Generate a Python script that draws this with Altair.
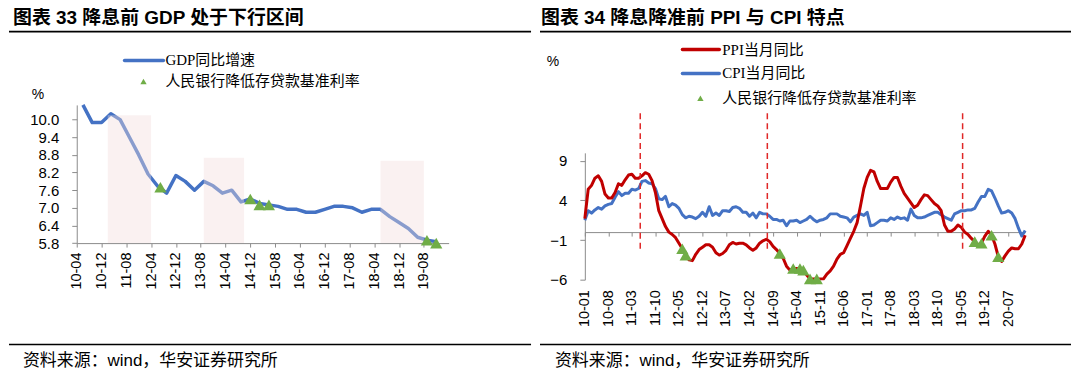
import altair as alt
import pandas as pd

# ---------------- data: left panel (GDP) ----------------
gdp_dates = ["2010-06", "2010-09", "2010-12", "2011-03", "2011-06", "2011-09", "2011-12",
             "2012-03", "2012-06", "2012-09", "2012-12", "2013-03", "2013-06", "2013-09", "2013-12",
             "2014-03", "2014-06", "2014-09", "2014-12", "2015-03", "2015-06", "2015-09", "2015-12",
             "2016-03", "2016-06", "2016-09", "2016-12", "2017-03", "2017-06", "2017-09", "2017-12",
             "2018-03", "2018-06", "2018-09", "2018-12", "2019-03", "2019-06", "2019-09", "2019-12"]
gdp_values = [10.8, 9.9, 9.9, 10.2, 10.0, 9.4, 8.8,
              8.15, 7.75, 7.5, 8.1, 7.9, 7.6, 7.9, 7.75,
              7.5, 7.6, 7.2, 7.3, 7.15, 7.1, 7.05, 6.95,
              6.95, 6.85, 6.85, 6.95, 7.05, 7.05, 7.0, 6.85,
              6.95, 6.95, 6.7, 6.5, 6.3, 6.0, 5.9, 5.85]
gdp_cut_dates = ["2012-07", "2014-12", "2015-03", "2015-06", "2019-09", "2019-12"]
gdp_cut_values = [7.7, 7.3, 7.1, 7.1, 5.9, 5.8]
shade_start = ["2011-02", "2013-09", "2018-06"]
shade_end = ["2012-04", "2014-10", "2019-08"]
shade_top = [10.15, 8.7, 8.6]
left_x_labels = ["10-04", "10-12", "11-08", "12-04", "12-12", "13-08", "14-04", "14-12",
                 "15-08", "16-04", "16-12", "17-08", "18-04", "18-12", "19-08"]
left_y_ticks = [5.8, 6.4, 7.0, 7.6, 8.2, 8.8, 9.4, 10.0]

# ---------------- data: right panel (PPI / CPI) ----------------
ppi_values = [1.7, 5.4, 5.9, 6.8, 7.1, 6.4, 4.8, 4.3, 4.3, 5.0, 6.1, 5.9,
              6.6, 7.2, 7.3, 6.8, 6.8, 7.1, 7.5, 7.3, 6.5, 5.0, 2.7, 1.7,
              0.7, 0.0, -0.3, -0.7, -1.4, -2.1, -2.9, -3.5, -3.6, -2.8, -2.2, -1.9,
              -1.6, -1.6, -1.9, -2.6, -2.9, -2.7, -2.3, -1.6, -1.3, -1.5, -1.4, -1.4,
              -1.6, -2.0, -2.3, -2.0, -1.4, -1.1, -0.9, -1.2, -1.8, -2.2, -2.7, -3.3,
              -4.3, -4.8, -4.6, -4.6, -4.6, -4.8, -5.4, -5.9, -5.9, -5.9, -5.9, -5.9,
              -5.3, -4.9, -4.3, -3.4, -2.8, -2.6, -1.7, -0.8, 0.1, 1.2, 3.3, 5.5,
              6.9, 7.8, 7.6, 6.4, 5.5, 5.5, 5.5, 6.3, 6.9, 6.9, 5.8, 4.9,
              4.3, 3.7, 3.1, 3.4, 4.1, 4.7, 4.6, 4.1, 3.6, 3.3, 2.7, 0.9,
              0.1, 0.1, 0.4, 0.9, 0.6, 0.0, -0.3, -0.8, -1.2, -1.6, -1.4, -0.5,
              0.1, -0.4, -1.5, -3.1, -3.7, -3.0, -2.4, -2.0, -2.1, -2.1, -1.5, -0.4]
cpi_values = [1.5, 2.7, 2.4, 2.8, 3.1, 2.9, 3.3, 3.5, 3.6, 4.4, 5.1, 4.6,
              4.9, 4.9, 5.4, 5.3, 5.5, 6.4, 6.5, 6.2, 6.1, 5.5, 4.2, 4.1,
              4.5, 3.2, 3.6, 3.4, 3.0, 2.2, 1.8, 2.0, 1.9, 1.7, 2.0, 2.5,
              2.0, 3.2, 2.1, 2.4, 2.1, 2.7, 2.7, 2.6, 3.1, 3.2, 3.0, 2.5,
              2.5, 2.0, 2.4, 1.8, 2.5, 2.3, 2.3, 2.0, 1.6, 1.6, 1.4, 1.5,
              0.8, 1.4, 1.4, 1.5, 1.2, 1.4, 1.6, 2.0, 1.6, 1.3, 1.5, 1.6,
              1.8, 2.3, 2.3, 2.3, 2.0, 1.9, 1.8, 1.3, 1.9, 2.1, 2.3, 2.1,
              2.5, 0.8, 0.9, 1.2, 1.5, 1.5, 1.4, 1.8, 1.6, 1.9, 1.7, 1.8,
              1.5, 2.9, 2.1, 1.8, 1.8, 1.9, 2.1, 2.3, 2.5, 2.5, 2.2, 1.9,
              1.7, 1.5, 2.3, 2.5, 2.7, 2.7, 2.8, 2.8, 3.0, 3.8, 4.5, 4.5,
              5.4, 5.2, 4.3, 3.3, 2.4, 2.5, 2.7, 2.4, 1.7, 0.5, -0.5, 0.2]
cut_dates = ["2012-06", "2012-07", "2014-11", "2015-03", "2015-05", "2015-06",
             "2015-08", "2015-10", "2019-09", "2019-11", "2020-02", "2020-04"]
cut_values = [-2.1, -2.9, -2.7, -4.6, -4.6, -4.8, -5.9, -5.9, -1.2, -1.4, -0.4, -3.1]
dash_dates = ["2011-05-16", "2014-07-10", "2019-05-13"]
dash_top = 15
dash_bottom = -2.6
right_x_labels = ["10-01", "10-08", "11-03", "11-10", "12-05", "12-12", "13-07", "14-02",
                  "14-09", "15-04", "15-11", "16-06", "17-01", "17-08", "18-03", "18-10",
                  "19-05", "19-12", "20-07"]
right_y_ticks = [-6, -1, 4, 9]

title_left = "图表 33 降息前 GDP 处于下行区间"
title_right = "图表 34 降息降准前 PPI 与 CPI 特点"
legend_gdp = "GDP同比增速"
legend_ppi = "PPI当月同比"
legend_cpi = "CPI当月同比"
legend_cut = "人民银行降低存贷款基准利率"
source_text = "资料来源：wind，华安证券研究所"
unit_text = "%"


def midx(s):
    t = pd.Timestamp(s)
    return (t.year - 2010) * 12 + t.month - 1 + (t.day - 1) / t.days_in_month


def lab_idx(lab):
    yy, mm = lab.split("-")
    return (int(yy) - 10) * 12 + int(mm) - 1


LABEL_EXPR = "format(floor(datum.value/12)+10,'02d') + '-' + format(datum.value%12+1,'02d')"

SANS = '"Liberation Sans", "Noto Sans CJK SC", sans-serif'
SERIF = '"Liberation Serif", "Noto Sans CJK SC", serif'
GREY = "#8c8c8c"
BLUE = "#4472C4"
RED = "#C00000"
GREEN = "#70AD47"
H = 366
W1 = 532
W2 = 533


def one(t):
    return pd.DataFrame({"t": [t]})


def text_mark(t, x, y, size, font=SANS, weight="normal", align="left"):
    return alt.Chart(one(t)).mark_text(
        align=align, baseline="middle", fontSize=size, font=font,
        fontWeight=weight, color="black"
    ).encode(x=alt.value(x), y=alt.value(y), text="t:N")


def hrule(x1, x2, y, color="black", width=1.5):
    return alt.Chart(one("r")).mark_rule(color=color, strokeWidth=width).encode(
        x=alt.value(x1), x2=alt.value(x2), y=alt.value(y))


# ---------------- left panel ----------------
gdp_df = pd.DataFrame({"m": [midx(d) for d in gdp_dates], "v": gdp_values})
gcut_df = pd.DataFrame({"m": [midx(d) for d in gdp_cut_dates], "v": gdp_cut_values})
shade_df = pd.DataFrame({"s": [midx(d) for d in shade_start],
                         "e": [midx(d) for d in shade_end], "top": shade_top,
                         "bot": [left_y_ticks[0]] * len(shade_top)})

xL = alt.Scale(domain=[3, 123], range=[68, 441.3], nice=False, zero=False)
yL = alt.Scale(domain=[5.8, 10.5], range=[235.3, 96.6], nice=False, zero=False, clamp=True)

xL_axis = alt.Axis(orient="bottom", offset=235.3 - H, values=[lab_idx(l) for l in left_x_labels],
                   labelExpr=LABEL_EXPR, labelAngle=-90, labelFlush=False, labelOverlap=False,
                   tickSize=4, labelPadding=5, labelFontSize=14.5, labelFont=SANS,
                   labelColor="black", domainColor=GREY, tickColor=GREY, grid=False, title=None)
yL_axis = alt.Axis(orient="left", offset=-68, values=left_y_ticks, format=".1f",
                   labelFlush=False, labelOverlap=False, tickSize=5, labelPadding=13,
                   labelFontSize=15, labelFont=SANS, labelColor="black",
                   domainColor=GREY, tickColor=GREY, grid=False, title=None)

gdp_line = alt.Chart(gdp_df).mark_line(color=BLUE, strokeWidth=3.5, strokeJoin="round").encode(
    x=alt.X("m:Q", scale=xL, axis=xL_axis), y=alt.Y("v:Q", scale=yL, axis=yL_axis))
shade = alt.Chart(shade_df).mark_rect(color="#F2DCDB", opacity=0.4).encode(
    x=alt.X("s:Q", scale=xL, axis=None), x2="e:Q",
    y=alt.Y("top:Q", scale=yL, axis=None), y2="bot:Q")
gcut = alt.Chart(gcut_df).mark_point(shape="triangle-up", filled=True, size=150,
                                     color=GREEN, opacity=1).encode(
    x=alt.X("m:Q", scale=xL, axis=None), y=alt.Y("v:Q", scale=yL, axis=None))

leg_line_l = alt.Chart(one("l")).mark_rule(color=BLUE, strokeWidth=3.5, strokeCap="round").encode(
    x=alt.value(116), x2=alt.value(155), y=alt.value(52))
leg_tri_l = alt.Chart(one("p")).mark_point(shape="triangle-up", filled=True, size=40,
                                           color=GREEN, opacity=1).encode(
    x=alt.value(135), y=alt.value(73))

left = alt.layer(
    gdp_line, shade, gcut,
    text_mark(title_left, 4, 9, 19, weight="bold"),
    hrule(0, 524, 23, width=1.8),
    leg_line_l, text_mark(legend_gdp, 157, 52, 15, font=SERIF),
    leg_tri_l, text_mark(legend_cut, 157, 73, 15, font=SERIF),
    text_mark(unit_text, 29, 87, 14, align="center"),
    hrule(0, 524, 337, width=1.5),
    text_mark(source_text, 14, 354, 17),
).resolve_axis(x="independent", y="independent").properties(width=W1, height=H)

# ---------------- right panel ----------------
n = len(ppi_values)
mi = list(range(n))
ppi_df = pd.DataFrame({"m": mi, "v": ppi_values})
cpi_df = pd.DataFrame({"m": mi, "v": cpi_values})
cut_df = pd.DataFrame({"m": [midx(d) for d in cut_dates], "v": cut_values})
dash_df = pd.DataFrame({"m": [midx(d) for d in dash_dates],
                        "top": [dash_top] * len(dash_dates),
                        "bot": [dash_bottom] * len(dash_dates)})

xR = alt.Scale(domain=[0, 131], range=[45, 487], nice=False, zero=False)
yR = alt.Scale(domain=[-6, 10], range=[272, 144.7], nice=False, zero=False)
y0_px = 272 - 6 * (272 - 144.7) / 16

xR_label_axis = alt.Axis(orient="bottom", offset=272 - H,
                         values=[lab_idx(l) for l in right_x_labels], labelExpr=LABEL_EXPR,
                         labelAngle=-90, labelFlush=False, labelOverlap=False, domain=False,
                         ticks=False, labelPadding=10, labelFontSize=14.5, labelFont=SANS,
                         labelColor="black", grid=False, title=None)
xR_zero_axis = alt.Axis(orient="bottom", offset=y0_px - H,
                        values=[lab_idx(l) for l in right_x_labels], labels=False,
                        tickSize=4, domainColor=GREY, tickColor=GREY, grid=False, title=None)
yR_axis = alt.Axis(orient="left", offset=-45, values=right_y_ticks, labelFlush=False,
                   labelOverlap=False, tickSize=5, labelPadding=13, labelFontSize=15,
                   labelFont=SANS, labelColor="black", domainColor=GREY, tickColor=GREY,
                   grid=False, title=None)

cpi_line = alt.Chart(cpi_df).mark_line(color=BLUE, strokeWidth=3, strokeJoin="round").encode(
    x=alt.X("m:Q", scale=xR, axis=xR_label_axis), y=alt.Y("v:Q", scale=yR, axis=yR_axis))
ppi_line = alt.Chart(ppi_df).mark_line(color=RED, strokeWidth=3, strokeJoin="round").encode(
    x=alt.X("m:Q", scale=xR, axis=xR_zero_axis), y=alt.Y("v:Q", scale=yR, axis=None))
dashes = alt.Chart(dash_df).mark_rule(color="#E02828", strokeWidth=1.5, strokeDash=[6, 4]).encode(
    x=alt.X("m:Q", scale=xR, axis=None), y=alt.Y("top:Q", scale=yR, axis=None), y2="bot:Q")
cuts = alt.Chart(cut_df).mark_point(shape="triangle-up", filled=True, size=150,
                                    color=GREEN, opacity=1).encode(
    x=alt.X("m:Q", scale=xR, axis=None), y=alt.Y("v:Q", scale=yR, axis=None))

leg_ppi = alt.Chart(one("l")).mark_rule(color=RED, strokeWidth=3.5, strokeCap="round").encode(
    x=alt.value(143), x2=alt.value(180), y=alt.value(41))
leg_cpi = alt.Chart(one("l")).mark_rule(color=BLUE, strokeWidth=3.5, strokeCap="round").encode(
    x=alt.value(143), x2=alt.value(180), y=alt.value(65))
leg_tri_r = alt.Chart(one("p")).mark_point(shape="triangle-up", filled=True, size=40,
                                           color=GREEN, opacity=1).encode(
    x=alt.value(161), y=alt.value(90))

right = alt.layer(
    cpi_line, ppi_line, dashes, cuts,
    text_mark(title_right, 1, 9, 19, weight="bold"),
    hrule(0, 533, 23, width=1.8),
    leg_ppi, text_mark(legend_ppi, 183, 41, 15, font=SERIF),
    leg_cpi, text_mark(legend_cpi, 183, 65, 15, font=SERIF),
    leg_tri_r, text_mark(legend_cut, 183, 90, 15, font=SERIF),
    text_mark(unit_text, 13, 54, 14, align="center"),
    hrule(0, 533, 337, width=1.5),
    text_mark(source_text, 15, 354, 17),
).resolve_axis(x="independent", y="independent").properties(width=W2, height=H)

chart = alt.hconcat(left, right, spacing=0).configure_view(stroke=None).properties(
    padding=0, background="white")

chart.save("out.html", embed_options={"renderer": "svg", "actions": False})
